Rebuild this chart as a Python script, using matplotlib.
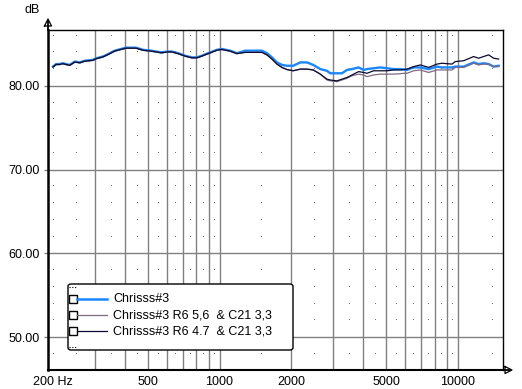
import matplotlib
matplotlib.use("Agg")
import matplotlib.pyplot as plt
from matplotlib.patches import FancyBboxPatch, Rectangle
from matplotlib.lines import Line2D
import numpy as np

plt.rcParams['font.family'] = ['Liberation Sans', 'DejaVu Sans']

# ---------------- data ----------------
freq = [200, 206, 213, 220, 227, 235, 247, 259, 272, 294, 304, 324, 341, 363, 386, 405,
        446, 478, 516, 569, 608, 631, 670, 717, 765, 803, 843, 896, 975, 1023, 1108, 1183,
        1282, 1507, 1582, 1660, 1742, 1829, 1918, 2038, 2183, 2329, 2475, 2650, 2825, 2917,
        3112, 3266, 3428, 3598, 3837, 4028, 4159, 4436, 4732, 5050, 5383, 5742, 5929, 6124,
        6533, 6969, 7553, 8187, 8591, 9464, 9773, 10595, 11670, 12245, 12850, 13491, 14158, 14862]

chrisss3 = [82.3, 82.6, 82.6, 82.7, 82.6, 82.5, 82.9, 82.8, 83.0, 83.1, 83.3, 83.5, 83.8, 84.2, 84.4, 84.56,
            84.56, 84.3, 84.2, 84.0, 84.1, 84.1, 83.9, 83.6, 83.4, 83.4, 83.6, 83.9, 84.3, 84.4, 84.2, 83.9,
            84.2, 84.2, 83.9, 83.4, 82.8, 82.5, 82.4, 82.4, 82.8, 82.8, 82.5, 82.0, 81.8, 81.5,
            81.5, 81.5, 81.9, 82.0, 82.2, 81.9, 82.0, 82.1, 82.2, 82.1, 82.0, 82.0, 81.95, 81.9,
            82.2, 82.2, 82.0, 82.3, 82.2, 82.2, 82.3, 82.3, 82.8, 82.6, 82.7, 82.6, 82.3, 82.4]

r6_56 = [82.25, 82.55, 82.55, 82.65, 82.55, 82.45, 82.85, 82.75, 82.95, 83.05, 83.25, 83.45, 83.75, 84.15, 84.35, 84.5,
         84.5, 84.25, 84.15, 83.95, 84.05, 84.05, 83.85, 83.55, 83.35, 83.35, 83.55, 83.85, 84.25, 84.35, 84.15, 83.85,
         84.0, 84.0, 83.7, 83.2, 82.6, 82.2, 81.95, 81.8, 82.0, 82.0, 81.9, 81.4, 80.7, 80.6,
         80.5, 80.7, 80.9, 81.2, 81.4, 81.3, 81.1, 81.3, 81.4, 81.4, 81.4, 81.45, 81.5, 81.5,
         81.8, 81.9, 81.6, 81.9, 81.9, 81.9, 82.2, 82.2, 82.7, 82.5, 82.6, 82.6, 82.3, 82.3]

r6_47 = [82.25, 82.55, 82.55, 82.65, 82.55, 82.45, 82.85, 82.75, 82.95, 83.05, 83.25, 83.45, 83.75, 84.15, 84.35, 84.5,
         84.5, 84.25, 84.15, 83.95, 84.05, 84.05, 83.85, 83.55, 83.35, 83.35, 83.55, 83.85, 84.25, 84.35, 84.15, 83.85,
         84.0, 84.0, 83.7, 83.2, 82.6, 82.2, 81.95, 81.8, 82.0, 82.0, 81.9, 81.4, 80.8, 80.7,
         80.6, 80.8, 81.0, 81.3, 81.7, 81.6, 81.5, 81.8, 81.8, 81.8, 81.9, 81.9, 81.95, 82.0,
         82.3, 82.5, 82.2, 82.6, 82.7, 82.6, 82.9, 83.0, 83.5, 83.3, 83.5, 83.7, 83.3, 83.2]

series_labels = ["Chrisss#3", "Chrisss#3 R6 5,6  & C21 3,3", "Chrisss#3 R6 4.7  & C21 3,3"]
series_colors = ["#1a86ff", "#806a80", "#0a0a30"]

x_major = [300, 400, 500, 600, 700, 800, 900, 1000, 2000, 3000, 4000, 5000, 6000, 7000, 8000, 9000, 10000]
x_minor = [200, 250, 350, 450, 550, 650, 750, 850, 950, 1500, 2500, 3500, 4500, 5500, 6500, 7500, 8500, 9500, 14000]
x_ticks = [200, 500, 1000, 2000, 5000, 10000]
x_ticklabels = ["200 Hz", "500", "1000", "2000", "5000", "10000"]
y_ticks = [50, 60, 70, 80]
y_ticklabels = ["50.00", "60.00", "70.00", "80.00"]
y_minor = [48, 52, 54, 56, 58, 62, 64, 66, 68, 72, 74, 76, 78, 82, 84, 86]

# ---------------- figure ----------------
W, H = 522, 389
fig = plt.figure(figsize=(W / 100, H / 100), dpi=100)

def fx(px):
    return px / W

def fy(py):
    return 1 - py / H

L, R, T, B = 48, 503, 30, 370
ax = fig.add_axes([fx(L), fy(B), fx(R) - fx(L), fy(T) - fy(B)])
ax.set_xscale('log')
ax.set_xlim(190.5, 15500)
ax.set_ylim(46.07, 86.67)

# grid
for xv in x_major:
    ax.axvline(xv, color='#808080', lw=1.0, zorder=1)
for yv in y_ticks:
    ax.axhline(yv, color='#808080', lw=1.0, zorder=1)
gx, gy = np.meshgrid(x_minor, y_minor)
ax.plot(gx.ravel(), gy.ravel(), ',', color='#707070', zorder=1)

# curves
ax.plot(freq, chrisss3, color=series_colors[0], lw=1.7, zorder=3)
ax.plot(freq, r6_56, color=series_colors[1], lw=0.9, zorder=4)
ax.plot(freq, r6_47, color=series_colors[2], lw=0.9, zorder=5)

# ticks
ax.set_xticks(x_ticks)
ax.set_xticklabels(x_ticklabels)
ax.xaxis.set_minor_locator(matplotlib.ticker.NullLocator())
ax.set_yticks(y_ticks)
ax.set_yticklabels(y_ticklabels)
ax.tick_params(axis='x', length=0, pad=4.5, labelsize=9, colors='black')
ax.tick_params(axis='y', length=3, width=1, pad=3, labelsize=9, colors='black', color='#808080')

for s in ['top', 'right']:
    ax.spines[s].set_linewidth(1.0)
ax.spines['left'].set_linewidth(1.8)
ax.spines['bottom'].set_linewidth(1.5)

# axis arrows
fig.add_artist(Line2D([fx(L), fx(L)], [fy(T), fy(21)], color='black', lw=1.3))
fig.add_artist(Line2D([fx(L) - fx(3.5), fx(L) + fx(3.5), fx(L), fx(L) - fx(3.5)],
                      [fy(26), fy(26), fy(19), fy(26)], color='black', lw=0.9))
fig.add_artist(Line2D([fx(R), fx(510)], [fy(B), fy(B)], color='black', lw=1.3))
fig.add_artist(Line2D([fx(505), fx(505), fx(512), fx(505)],
                      [fy(B - 3.5), fy(B + 3.5), fy(B), fy(B - 3.5)], color='black', lw=0.9))

fig.text(fx(32), fy(10), "dB", ha='center', va='center', fontsize=9)

# legend (manual, like the original software)
lx0, lx1, ly0, ly1 = 68, 293, 284, 350
box = FancyBboxPatch((fx(lx0), fy(ly1)), fx(lx1) - fx(lx0), fy(ly0) - fy(ly1),
                     boxstyle="round,pad=0,rounding_size=0.006",
                     transform=fig.transFigure, facecolor='white', edgecolor='black', lw=1.0, zorder=10)
fig.add_artist(box)
fig.add_artist(Line2D([fx(69), fx(77)], [fy(287), fy(287)], color='black', lw=0.8, ls=(0, (1, 1.5)), zorder=11))
fig.add_artist(Line2D([fx(69), fx(77)], [fy(347), fy(347)], color='black', lw=0.8, ls=(0, (1, 1.5)), zorder=11))
rows = [299, 315, 331]
lws = [1.8, 0.9, 0.9]
for i, ry in enumerate(rows):
    sq = Rectangle((fx(69), fy(ry + 4)), fx(8), fy(0) - fy(8), transform=fig.transFigure,
                   facecolor='white', edgecolor='black', lw=1.0, zorder=11)
    fig.add_artist(sq)
    fig.add_artist(Line2D([fx(77), fx(107)], [fy(ry), fy(ry)], color=series_colors[i], lw=lws[i], zorder=11))
    fig.text(fx(113), fy(ry), series_labels[i], ha='left', va='center', fontsize=9, zorder=12)

fig.savefig("out.png", dpi=100)
